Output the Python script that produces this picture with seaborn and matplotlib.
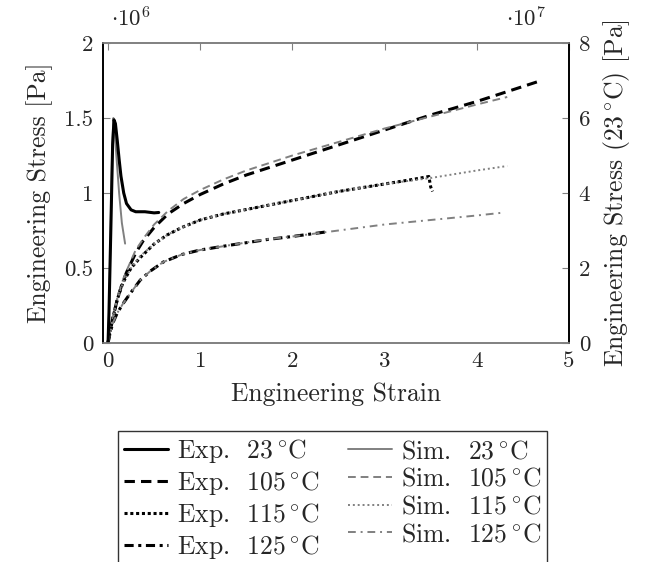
import numpy as np
import pandas as pd
import seaborn as sns
import matplotlib
matplotlib.use("Agg")
import matplotlib.pyplot as plt
from matplotlib.lines import Line2D

# strain / stress readings (stress: left axis in 1e6 Pa, 23 C on right axis in 1e7 Pa)
exp23_x = [0.0, 0.01, 0.03, 0.05, 0.065, 0.08, 0.10, 0.12, 0.14, 0.17, 0.20, 0.25, 0.30, 0.40, 0.50, 0.55]
exp23_y = [0.0, 0.8, 3.0, 5.3, 5.95, 5.85, 5.4, 4.9, 4.45, 4.0, 3.72, 3.55, 3.5, 3.5, 3.47, 3.48]
sim23_x = [0.0, 0.01, 0.025, 0.045, 0.058, 0.07, 0.09, 0.12, 0.15, 0.185]
sim23_y = [0.0, 0.7, 2.6, 5.2, 6.0, 5.8, 5.0, 4.0, 3.2, 2.65]

exp105_x = [0.0, 0.02, 0.05, 0.1, 0.15, 0.2, 0.3, 0.38, 0.5, 0.65, 0.82, 1.0, 1.25, 1.5, 1.75,
            2.0, 2.5, 3.0, 3.5, 4.0, 4.35, 4.7]
exp105_y = [0.0, 0.08, 0.16, 0.29, 0.39, 0.47, 0.6, 0.68, 0.77, 0.86, 0.93, 0.99, 1.06, 1.12, 1.17,
            1.22, 1.32, 1.42, 1.52, 1.61, 1.68, 1.75]
sim105_x = [0.0, 0.02, 0.05, 0.1, 0.15, 0.2, 0.3, 0.4, 0.5, 0.65, 0.82, 1.0, 1.25, 1.5, 1.75,
            2.0, 2.5, 3.0, 3.5, 4.0, 4.33]
sim105_y = [0.0, 0.08, 0.17, 0.3, 0.4, 0.48, 0.62, 0.71, 0.79, 0.88, 0.96, 1.02, 1.09, 1.15, 1.2,
            1.25, 1.34, 1.43, 1.51, 1.59, 1.64]

exp115_x = [0.0, 0.02, 0.05, 0.1, 0.16, 0.25, 0.35, 0.5, 0.64, 0.8, 1.0, 1.25, 1.5, 2.0, 2.5,
            3.0, 3.3, 3.48, 3.5, 3.52]
exp115_y = [0.0, 0.07, 0.16, 0.29, 0.4, 0.5, 0.57, 0.66, 0.72, 0.77, 0.82, 0.86, 0.89, 0.95, 1.01,
            1.06, 1.09, 1.11, 1.04, 1.01]
sim115_x = [0.0, 0.02, 0.05, 0.1, 0.16, 0.25, 0.35, 0.5, 0.64, 0.8, 1.0, 1.25, 1.5, 2.0, 2.5,
            3.0, 3.5, 4.0, 4.33]
sim115_y = [0.0, 0.07, 0.16, 0.29, 0.4, 0.5, 0.58, 0.66, 0.72, 0.77, 0.82, 0.86, 0.89, 0.95, 1.01,
            1.06, 1.1, 1.15, 1.18]

exp125_x = [0.0, 0.02, 0.05, 0.1, 0.16, 0.24, 0.35, 0.46, 0.6, 0.8, 1.0, 1.3, 1.73, 2.0, 2.36]
exp125_y = [0.0, 0.06, 0.13, 0.2, 0.26, 0.33, 0.42, 0.48, 0.54, 0.59, 0.62, 0.65, 0.69, 0.71, 0.74]
sim125_x = [0.0, 0.02, 0.05, 0.1, 0.16, 0.24, 0.35, 0.46, 0.6, 0.8, 1.0, 1.3, 1.7, 2.0, 2.5,
            3.0, 3.5, 4.0, 4.3]
sim125_y = [0.0, 0.06, 0.13, 0.2, 0.26, 0.33, 0.42, 0.48, 0.54, 0.59, 0.62, 0.65, 0.69, 0.71, 0.75,
            0.79, 0.82, 0.85, 0.87]

sns.set_style("white")
plt.rcParams["font.family"] = "serif"
plt.rcParams["font.serif"] = ["cmr10", "DejaVu Serif"]
plt.rcParams["mathtext.fontset"] = "cm"
plt.rcParams["axes.unicode_minus"] = False
plt.rcParams["axes.formatter.use_mathtext"] = True

tick_fs = 16.5
label_fs = 18.5

gray = "#808080"
deg = r"$\,^{\circ}$C"

fig = plt.figure(figsize=(6.46, 5.62), dpi=100)
ax = fig.add_axes([0.1594, 0.3897, 0.7214, 0.5338])
ax2 = ax.twinx()


def draw(axis, xs, ys, color, ls, lw):
    sns.lineplot(x=np.array(xs), y=np.array(ys), ax=axis, color=color,
                 linestyle=ls, linewidth=lw, sort=False, estimator=None)


lw_exp, lw_sim = 2.2, 1.4
dash = (0, (3.4, 2.0))
dot = (0, (1, 0.9))
dashdot = (0, (3, 1.5, 1, 1.5))
sim_dash = (0, (4, 2.5))
sim_dot = (0, (1, 1.5))
sim_dashdot = (0, (4, 2.5, 1, 2.5))

# right axis: 23 C
draw(ax2, sim23_x, sim23_y, gray, "-", lw_sim)
draw(ax2, exp23_x, exp23_y, "black", "-", lw_exp)

# left axis
draw(ax, exp105_x, exp105_y, "black", dash, lw_exp)
draw(ax, sim105_x, sim105_y, gray, sim_dash, lw_sim)
draw(ax, exp115_x, exp115_y, "black", dot, lw_exp)
draw(ax, sim115_x, sim115_y, gray, sim_dot, lw_sim)
draw(ax, exp125_x, exp125_y, "black", dashdot, lw_exp)
draw(ax, sim125_x, sim125_y, gray, sim_dashdot, lw_sim)

ax.set_xlim(-0.055, 5.0)
ax.set_ylim(0, 2)
ax2.set_ylim(0, 8)
ax.set_xticks([0, 1, 2, 3, 4, 5])
ax.set_xticklabels(["0", "1", "2", "3", "4", "5"])
ax.set_yticks([0, 0.5, 1, 1.5, 2])
ax.set_yticklabels(["0", "0.5", "1", "1.5", "2"])
ax2.set_yticks([0, 2, 4, 6, 8])
ax2.set_yticklabels(["0", "2", "4", "6", "8"])

ax.tick_params(axis="x", direction="in", length=5, color=gray, top=True, pad=6, labelsize=tick_fs)
ax.tick_params(axis="y", direction="in", length=5, color=gray, pad=7, labelsize=tick_fs)
ax2.tick_params(axis="y", direction="in", length=5, color=gray, pad=7, labelsize=tick_fs)

for a in (ax, ax2):
    a.spines["top"].set_color(gray)
    a.spines["bottom"].set_color(gray)
    a.spines["left"].set_color("black")
    a.spines["right"].set_color("black")
    for s in a.spines.values():
        s.set_linewidth(1.2)

ax.set_xlabel("Engineering Strain", labelpad=8, fontsize=label_fs)
ax.set_ylabel("Engineering Stress [Pa]", labelpad=8, fontsize=label_fs)
ax2.set_ylabel("Engineering Stress (23" + deg + ") [Pa]", labelpad=8, fontsize=label_fs)

fig.text(0.172, 0.952, r"$\cdot 10^{6}$", ha="left", va="baseline", fontsize=tick_fs)
fig.text(0.845, 0.952, r"$\cdot 10^{7}$", ha="right", va="baseline", fontsize=tick_fs)

handles = [
    Line2D([], [], color="black", ls="-", lw=lw_exp),
    Line2D([], [], color="black", ls=dash, lw=lw_exp),
    Line2D([], [], color="black", ls=dot, lw=lw_exp),
    Line2D([], [], color="black", ls=dashdot, lw=lw_exp),
    Line2D([], [], color=gray, ls="-", lw=lw_sim),
    Line2D([], [], color=gray, ls=sim_dash, lw=lw_sim),
    Line2D([], [], color=gray, ls=sim_dot, lw=lw_sim),
    Line2D([], [], color=gray, ls=sim_dashdot, lw=lw_sim),
]
labels = ["Exp.  23" + deg, "Exp.  105" + deg, "Exp.  115" + deg, "Exp.  125" + deg,
          "Sim.  23" + deg, "Sim.  105" + deg, "Sim.  115" + deg, "Sim.  125" + deg]
leg = fig.legend(handles, labels, loc="upper center", bbox_to_anchor=(0.515, 0.256),
                 ncol=2, frameon=True, fancybox=False, edgecolor="black", fontsize=label_fs,
                 handlelength=1.7, handletextpad=0.35, columnspacing=1.1,
                 labelspacing=0.15, borderpad=0.25)
leg.get_frame().set_linewidth(1.0)

fig.savefig("out.png", dpi=100)
